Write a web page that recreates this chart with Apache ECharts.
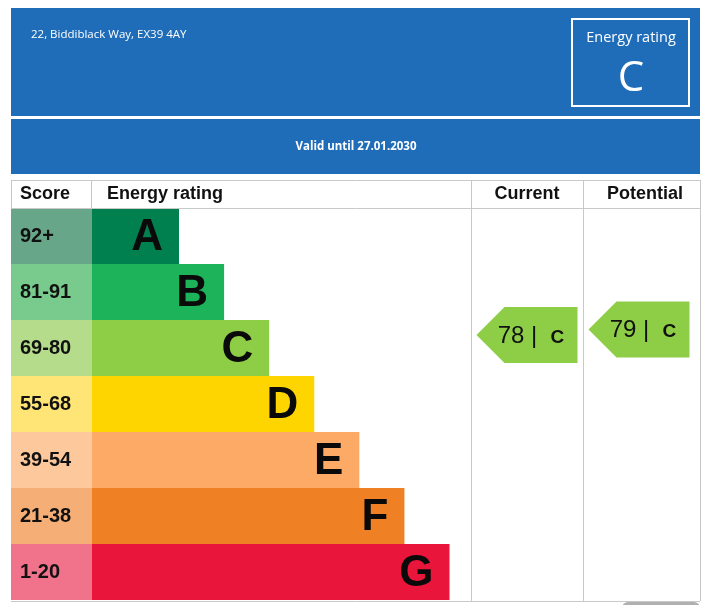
<!DOCTYPE html>
<html><head><meta charset="utf-8">
<script src="https://cdn.jsdelivr.net/npm/echarts@6/dist/echarts.min.js"></script>
<style>html,body{margin:0;padding:0;background:#fff}#c{width:710px;height:605px}</style>
</head><body><div id="c"></div>
<script>
// ---- data ----
const bands = ['A', 'B', 'C', 'D', 'E', 'F', 'G'];
const scoreRanges = ['92+', '81-91', '69-80', '55-68', '39-54', '21-38', '1-20'];
const barLevels = [2, 3, 4, 5, 6, 7, 8];
const bandColors = ['#007f4f', '#1cb35a', '#8dce46', '#ffd500', '#fcaa65', '#ef8023', '#e9153b'];
const scoreColors = ['#68a689', '#78cb8d', '#b5dc8a', '#ffe576', '#fdc89b', '#f5ae75', '#f0728b'];
const ratingColumns = ['Current', 'Potential'];
const ratingScores = [78, 79];
const ratingBands = ['C', 'C'];
const arrowColor = '#8dce46';
const address = '22, Biddiblack Way, EX39 4AY';
const validUntil = 'Valid until 27.01.2030';
const overallLabel = 'Energy rating';
const overallRating = 'C';
const headers = ['Score', 'Energy rating', 'Current', 'Potential'];

const chart = echarts.init(document.getElementById('c'), null, {renderer: 'canvas'});
const FONT = '"Liberation Sans", Arial, sans-serif';
const HFONT = '"Open Sans", "Noto Sans", sans-serif';
const blue = '#1f6db8';
const lineC = '#c9c9c9';

function line(x1, y1, x2, y2) {
  return {type: 'line', silent: true, shape: {x1, y1, x2, y2}, style: {stroke: lineC, lineWidth: 1}, z: 10};
}

const graphic = [
  {type: 'rect', shape: {x: 11, y: 8, width: 689, height: 108}, style: {fill: blue}},
  {type: 'rect', shape: {x: 11, y: 119, width: 689, height: 55}, style: {fill: blue}},
  {type: 'text', x: 31, y: 35, style: {text: address, fill: '#fff', font: '11.5px ' + HFONT, textVerticalAlign: 'middle'}},
  {type: 'text', x: 356, y: 147, style: {text: validUntil, fill: '#fff', font: 'bold 11.5px ' + HFONT, textAlign: 'center', textVerticalAlign: 'middle'}},
  {type: 'rect', shape: {x: 572, y: 19, width: 117, height: 87}, style: {fill: 'none', stroke: '#fff', lineWidth: 2}},
  {type: 'text', x: 631, y: 38, style: {text: overallLabel, fill: '#fff', font: '14.5px ' + HFONT, textAlign: 'center', textVerticalAlign: 'middle'}},
  {type: 'text', x: 631, y: 79, style: {text: overallRating, fill: '#fff', font: '42px ' + HFONT, textAlign: 'center', textVerticalAlign: 'middle'}},
  // table header texts
  {type: 'text', x: 20, y: 194, style: {text: headers[0], fill: '#111', font: 'bold 18px ' + FONT, textVerticalAlign: 'middle'}},
  {type: 'text', x: 107, y: 194, style: {text: headers[1], fill: '#111', font: 'bold 18px ' + FONT, textVerticalAlign: 'middle'}},
  {type: 'text', x: 527, y: 194, style: {text: headers[2], fill: '#111', font: 'bold 18px ' + FONT, textAlign: 'center', textVerticalAlign: 'middle'}},
  {type: 'text', x: 645, y: 194, style: {text: headers[3], fill: '#111', font: 'bold 18px ' + FONT, textAlign: 'center', textVerticalAlign: 'middle'}},
  // table lines
  line(11, 180.5, 700, 180.5),
  line(11, 208.5, 700, 208.5),
  line(11, 601.5, 700, 601.5),
  line(11.5, 180, 11.5, 208),
  line(91.5, 180, 91.5, 208),
  line(471.5, 180, 471.5, 601),
  line(583.5, 180, 583.5, 601),
  line(700.5, 180, 700.5, 601),
  {type: 'rect', shape: {x: 622, y: 602, width: 78, height: 12, r: 6}, style: {fill: '#b0b0b0'}}
];

const option = {
  animation: false,
  backgroundColor: '#fff',
  graphic: graphic,
  grid: [
    {left: 11, width: 81, top: 208, height: 392},
    {left: 92, width: 379, top: 208, height: 392},
    {left: 471, width: 224, top: 208, height: 392}
  ],
  xAxis: [
    {gridIndex: 0, type: 'value', min: 0, max: 1, show: false},
    {gridIndex: 1, type: 'value', min: 0.07, max: 8.477, show: false},
    {gridIndex: 2, type: 'category', data: ratingColumns, show: false}
  ],
  yAxis: [
    {gridIndex: 0, type: 'category', data: bands, inverse: true, show: false},
    {gridIndex: 1, type: 'category', data: bands, inverse: true, show: false},
    {gridIndex: 2, type: 'value', min: 30, max: 101, show: false}
  ],
  series: [
    {
      type: 'bar', xAxisIndex: 0, yAxisIndex: 0, barCategoryGap: 0,
      data: scoreRanges.map((s, i) => ({value: 1, itemStyle: {color: scoreColors[i]}})),
      label: {show: true, position: 'insideLeft', distance: 9, formatter: p => scoreRanges[p.dataIndex],
        fontFamily: FONT, fontWeight: 'bold', fontSize: 20, color: '#111'}
    },
    {
      type: 'bar', xAxisIndex: 1, yAxisIndex: 1, barCategoryGap: 0,
      data: barLevels.map((v, i) => ({value: v, itemStyle: {color: bandColors[i]}})),
      label: {show: true, position: 'insideRight', distance: 16, offset: [0, 2], formatter: p => bands[p.dataIndex],
        fontFamily: FONT, fontWeight: 'bold', fontSize: 44, color: '#0a0a0a'}
    },
    {
      type: 'custom', xAxisIndex: 2, yAxisIndex: 2,
      data: ratingScores.map((s, i) => [i, s]),
      renderItem: function (params, api) {
        const p = api.coord([api.value(0), api.value(1)]);
        const w = 101, h = 56, tip = 28;
        const x0 = p[0] - w / 2, y0 = p[1] - h / 2;
        const i = params.dataIndex;
        return {
          type: 'group',
          children: [
            {type: 'polygon', shape: {points: [[x0, p[1]], [x0 + tip, y0], [x0 + w, y0], [x0 + w, y0 + h], [x0 + tip, y0 + h]]},
              style: {fill: arrowColor}},
            {type: 'text', x: p[0] + 4, y: p[1] - 1,
              style: {
                text: '{n|' + ratingScores[i] + ' |}  {b|' + ratingBands[i] + '}',
                align: 'center', verticalAlign: 'middle',
                rich: {
                  n: {fontFamily: FONT, fontSize: 24, color: '#111', lineHeight: 28, verticalAlign: 'bottom'},
                  b: {fontFamily: FONT, fontSize: 19, fontWeight: 'bold', color: '#111', lineHeight: 28, verticalAlign: 'bottom', padding: [0, 0, 1, 0]}
                },
                font: '24px ' + FONT, fill: '#111'
              }}
          ]
        };
      }
    }
  ]
};
chart.setOption(option);
</script>
</body></html>
